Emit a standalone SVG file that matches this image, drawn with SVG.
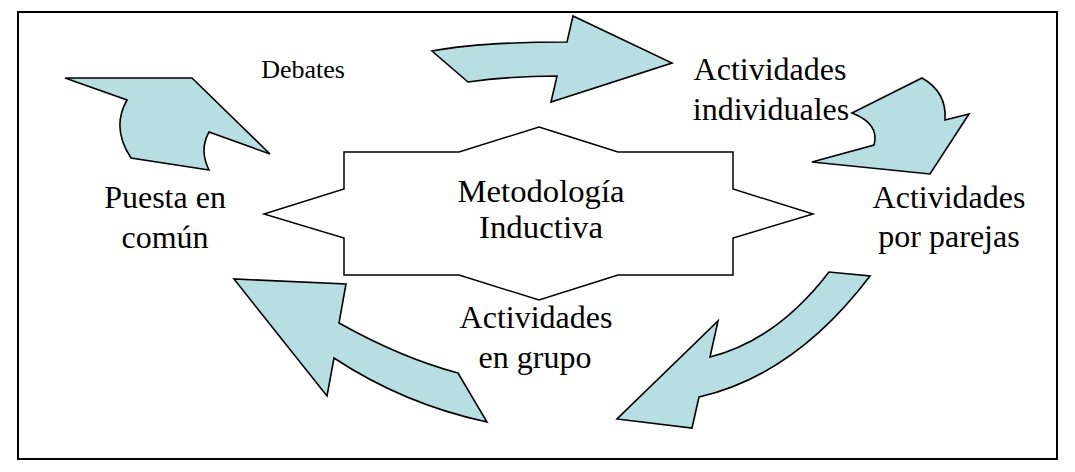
<svg xmlns="http://www.w3.org/2000/svg" width="1075" height="472" viewBox="0 0 1075 472">
<style>
.arrow{fill:#b7dee3;stroke:#000;stroke-width:1.6;stroke-linejoin:miter}
.star{fill:#fff;stroke:#000;stroke-width:1.5}
.t{font-family:"Liberation Serif","Times New Roman",serif;fill:#000;text-anchor:middle}
.p{font-size:32px}
</style>
<rect x="0" y="0" width="1075" height="472" fill="#fff"/>
<rect id="frame" x="18" y="12" width="1039" height="447" fill="#fff" stroke="#000" stroke-width="2"/>
<g id="node-metodologia">
<polygon class="star" points="539,127 618,152 733,152 733,189 813,214 733,238 733,275 618,275 539,300 459,275 344,275 344,238 264,214 344,189 344,152 459,152"/>
<text class="t" x="541" y="202" font-size="32" textLength="167" lengthAdjust="spacingAndGlyphs">Metodología</text>
<text class="t" x="541" y="238" font-size="32" textLength="124" lengthAdjust="spacingAndGlyphs">Inductiva</text>
</g>
<g id="connectors">
<path class="arrow" d="M432,51 Q480,42 567,42 L573,16 L672,63 L551,102 L557,76 Q510,76 468,82 Z"/>
<path class="arrow" d="M852,113 L922,78 Q947,92 945,120 L969,114 L930,174 L812,162 L874,145 Q880,124 852,113 Z"/>
<path class="arrow" d="M870,276 Q795,375 699,397 L692,428 L617,419 L718,321 L710,357 Q777,340 829,272 Z"/>
<path class="arrow" d="M487,422 Q403.5,404 334,358 L327,396 L234,279 L346,284 L339,323 Q401.5,358 458,373 Z"/>
<path class="arrow" d="M65,78 L192,78 L270,154 L209,132 Q199,150 209,170 L131,158 Q111,128 127,100 Z"/>
</g>
<g id="node-debates">
<text class="t" x="303" y="78" font-size="26">Debates</text>
</g>
<g id="node-individuales">
<text class="t p" x="770" y="80">Actividades</text>
<text class="t p" x="771" y="120">individuales</text>
</g>
<g id="node-parejas">
<text class="t p" x="949" y="208">Actividades</text>
<text class="t p" x="949" y="247">por parejas</text>
</g>
<g id="node-grupo">
<text class="t p" x="536" y="328">Actividades</text>
<text class="t p" x="535" y="368">en grupo</text>
</g>
<g id="node-puesta">
<text class="t p" x="165" y="208">Puesta en</text>
<text class="t p" x="165" y="248">común</text>
</g>
</svg>
